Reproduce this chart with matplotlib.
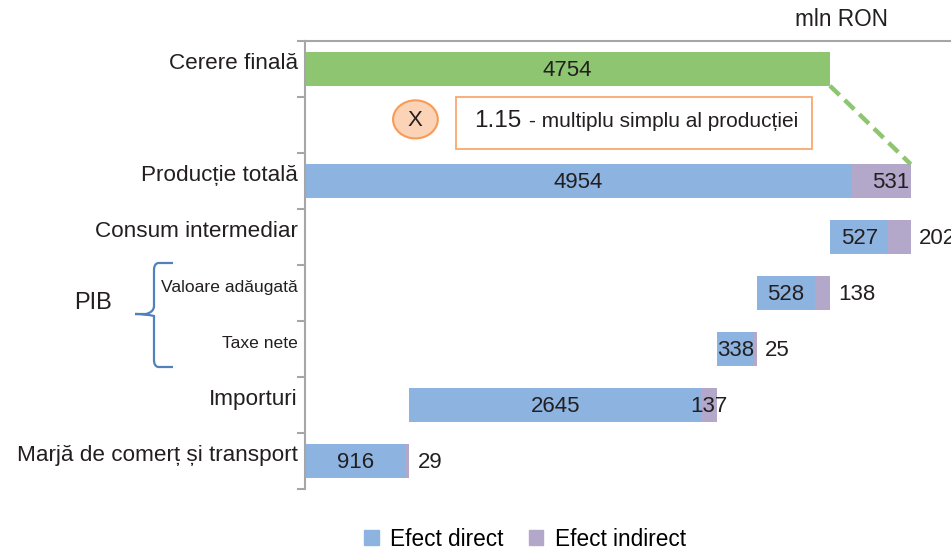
import matplotlib
matplotlib.use("Agg")

import matplotlib.pyplot as plt
from matplotlib.patches import Ellipse, Rectangle, Patch, PathPatch
from matplotlib.path import Path

plt.rcParams["font.family"] = ["Liberation Sans", "DejaVu Sans"]

# ---------- Data ----------
categories = ["Cerere finală", "", "Producție totală", "Consum intermediar",
              "Valoare adăugată", "Taxe nete", "Importuri",
              "Marjă de comerț și transport"]
final_demand = 4754
direct = [None, None, 4954, 527, 528, 338, 2645, 916]
indirect = [None, None, 531, 202, 138, 25, 137, 29]
multiplier = "1.15"

# waterfall: total production from 0, components stacked up from the bottom
starts = [None, None, 0, 0, 0, 0, 0, 0]
run = 0
for i in range(7, 3, -1):
    starts[i] = run
    run += direct[i] + indirect[i]
starts[3] = direct[2] + indirect[2] - direct[3] - indirect[3]

c_green = "#8DC571"
c_blue = "#8DB3E0"
c_purple = "#B3A7CA"
c_text = "#231F20"
c_grey = "#A6A6A6"

# ---------- Figure ----------
fig = plt.figure(figsize=(9.51, 5.54), dpi=100)
ax = fig.add_axes([305 / 951, 1 - 489 / 554, 1 - 305 / 951, (489 - 41) / 554])
ax.set_xlim(0, 5850)
ax.set_ylim(7.5, -0.5)

vfs = 16
bh = 0.6
ax.barh(0, final_demand, height=bh, color=c_green)
ax.text(final_demand / 2, 0.03, str(final_demand), ha="center", va="center",
        fontsize=vfs, color=c_text)

for i in range(2, 8):
    ax.barh(i, direct[i], left=starts[i], height=bh, color=c_blue)
    ax.barh(i, indirect[i], left=starts[i] + direct[i], height=bh, color=c_purple)
    ax.text(starts[i] + direct[i] / 2, i + 0.03, str(direct[i]), ha="center",
            va="center", fontsize=vfs, color=c_text)
    end = starts[i] + direct[i] + indirect[i]
    if i == 2:
        ax.text(end - 10, i + 0.03, str(indirect[i]), ha="right", va="center",
                fontsize=vfs, color=c_text)
    elif i == 6:
        ax.text(starts[i] + direct[i] + indirect[i] / 2, i + 0.03, str(indirect[i]),
                ha="center", va="center", fontsize=vfs, color=c_text)
    else:
        ax.text(end + 75, i + 0.03, str(indirect[i]), ha="left", va="center",
                fontsize=vfs, color=c_text, clip_on=False)

# dashed connector from final demand to total production
prod_end = direct[2] + indirect[2]
ax.plot([final_demand, prod_end], [0 + bh / 2, 2 - bh / 2], ls=(0, (3, 1.6)),
        lw=3.2, color=c_green, solid_capstyle="butt")

# multiplier annotation
ax.add_patch(Ellipse((1000, 0.9), 405, 0.68, facecolor="#FBD3B6",
                     edgecolor="#F79B59", lw=1.5, zorder=3))
ax.text(1000, 0.92, "X", ha="center", va="center", fontsize=16,
        color=c_text, zorder=4)
ax.add_patch(Rectangle((1370, 0.5), 3225, 0.93, facecolor="white",
                       edgecolor="#F9A86E", lw=1.3, zorder=3))
ax.text(1530, 0.92, multiplier, ha="left", va="center", fontsize=17.5,
        color=c_text, zorder=4)
ax.text(2030, 0.94, "- multiplu simplu al producției", ha="left", va="center",
        fontsize=15, color=c_text, zorder=4)

# ---------- Axes styling ----------
for s in ["right", "bottom"]:
    ax.spines[s].set_visible(False)
ax.spines["left"].set_color(c_grey)
ax.spines["top"].set_color(c_grey)
ax.spines["left"].set_linewidth(1.5)
ax.spines["top"].set_linewidth(1.5)
ax.set_xticks([])
ax.set_yticks([y - 0.5 for y in range(9)])
ax.set_yticklabels([])
ax.tick_params(axis="y", length=6, width=1.5, color=c_grey)

# category labels
for i, lab in enumerate(categories):
    if not lab:
        continue
    fs = 12.6 if i in (4, 5) else 16.2
    ax.text(-65, i - 0.1, lab, ha="right", va="center", fontsize=fs,
            color=c_text, clip_on=False)

# PIB brace
W, H = 951, 554
def fp(x, y):
    return (x / W, 1 - y / H)

verts = [fp(173, 263), fp(158, 263), fp(154, 264), fp(154, 270),
         fp(154, 306), fp(154, 312), fp(146, 314), fp(135, 314),
         fp(146, 314), fp(154, 316), fp(154, 322),
         fp(154, 360), fp(154, 366), fp(158, 367), fp(173, 367)]
codes = [Path.MOVETO, Path.LINETO, Path.CURVE3, Path.CURVE3,
         Path.LINETO, Path.CURVE3, Path.CURVE3, Path.LINETO,
         Path.CURVE3, Path.CURVE3, Path.LINETO,
         Path.LINETO, Path.CURVE3, Path.CURVE3, Path.LINETO]
fig.patches.append(PathPatch(Path(verts, codes), transform=fig.transFigure,
                             fill=False, edgecolor="#4F81BD", lw=1.6))
fig.text(93 / W, 1 - 303 / H, "PIB", ha="center", va="center", fontsize=17,
         color=c_text)

fig.text(888 / W, 1 - 20 / H, "mln RON", ha="right", va="center", fontsize=16.3,
         color=c_text)

# legend
handles = [Patch(color=c_blue, label="Efect direct"),
           Patch(color=c_purple, label="Efect indirect")]
fig.legend(handles=handles, loc="center", bbox_to_anchor=(0.552, 0.027),
           ncol=2, frameon=False, fontsize=16.3, handlelength=0.65,
           handleheight=0.65, handletextpad=0.5, columnspacing=1.1)

fig.savefig("out.png", dpi=100)
